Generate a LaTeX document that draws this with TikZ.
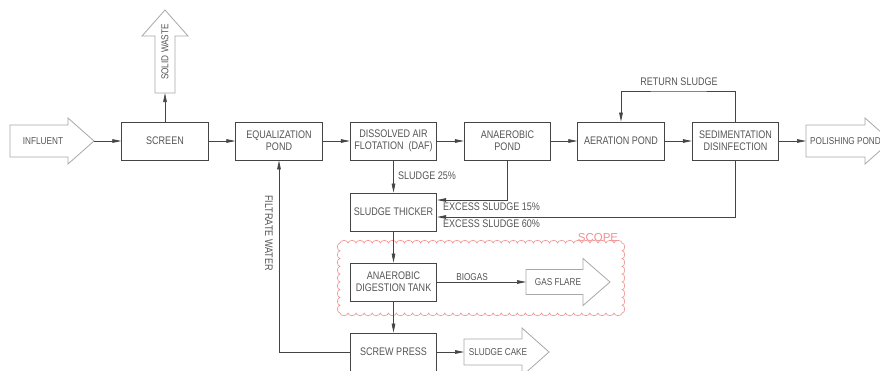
\documentclass[tikz,border=0pt]{standalone}
\usepackage{fontspec}
\setmainfont{Liberation Sans}[FakeStretch=0.82]
\newfontfamily\scopefont{Liberation Sans}
\usetikzlibrary{arrows.meta}
\definecolor{txt}{HTML}{555555}
\definecolor{ln}{HTML}{454545}
\definecolor{hol}{HTML}{A8A8A8}
\definecolor{cloudred}{HTML}{F09090}
\tikzset{
  box/.style={draw=ln, line width=0.8pt, minimum width=86.5pt, minimum height=38pt,
    align=center, text=txt, font=\fontsize{11}{12}\selectfont, inner sep=1pt},
  lbl/.style={text=txt, font=\fontsize{11}{12}\selectfont, inner sep=0pt},
  slbl/.style={text=txt, font=\fontsize{10}{11}\selectfont, inner sep=0pt},
  conn/.style={draw=ln, line width=0.7pt, -{Triangle[length=9pt,width=3.6pt]}},
  hollow/.style={draw=hol, line width=0.8pt, fill=white},
}
\newcommand\hollowR[7]{%
  \draw[hollow] (#2,#5-#6) -- (#3,#5-#6) -- (#3,#5-#7) -- (#4,#5) -- (#3,#5+#7) -- (#3,#5+#6) -- (#2,#5+#6) -- cycle;
  \coordinate (#1-back) at (#2,#5);
  \coordinate (#1-tip) at (#4,#5);
}
\begin{document}
\begin{tikzpicture}[x=1pt, y=-1pt]
\useasboundingbox (0,0) rectangle (880,370);
\fill[white] (0,0) rectangle (880,370);
\clip (0,0) rectangle (880,370);

% scope cloud
\draw[cloudred, line width=0.6pt]
  (340,243)
  \foreach \i in {1,...,35} { arc[start angle=180, end angle=360, x radius=4.03, y radius=2.6] }
  \foreach \i in {1,...,9} { arc[start angle=270, end angle=450, x radius=2.6, y radius=3.89] }
  \foreach \i in {1,...,35} { arc[start angle=0, end angle=180, x radius=4.03, y radius=2.6] }
  \foreach \i in {1,...,9} { arc[start angle=90, end angle=270, x radius=2.6, y radius=3.89] };
\node[text=cloudred, font=\scopefont\fontsize{11.5}{12}\selectfont, inner sep=0pt] (scope) at (598,238) {SCOPE};

% hollow arrows
\hollowR{inf}{10}{68}{94}{141}{16}{23}
\node[slbl] (inft) at (43,141) {INFLUENT};
\hollowR{pol}{806}{865}{891}{141}{16}{23}
\node[slbl, anchor=west] (polt) at (810,141) {POLISHING POND};
\hollowR{gf}{526}{583}{610}{282}{12.5}{23.5}
\node[slbl] (gft) at (558,282) {GAS FLARE};
\hollowR{sc}{464}{522}{549}{352}{13}{24}
\node[slbl] (sct) at (498,352) {SLUDGE CAKE};
% solid waste (vertical)
\draw[hollow] (155,93) -- (155,36) -- (142,36) -- (165,10) -- (188,36) -- (175,36) -- (175,93) -- cycle;
\coordinate (sw-back) at (165,93);
\node[slbl, rotate=90] (swt) at (165,52) {SOLID WASTE};

% boxes
\node[box] (scr) at (165,141) {SCREEN};
\node[box] (eq)  at (279,141) {EQUALIZATION\\POND};
\node[box] (daf) at (393.5,141) {DISSOLVED AIR\\FLOTATION\ \ (DAF)};
\node[box] (anp) at (507.5,141) {ANAEROBIC\\POND};
\node[box] (aer) at (621,141) {AERATION POND};
\node[box] (sed) at (735.5,141) {SEDIMENTATION\\DISINFECTION};
\node[box] (thk) at (393.5,212) {SLUDGE THICKER};
\node[box] (adt) at (393.5,282) {ANAEROBIC\\DIGESTION TANK};
\node[box] (sp)  at (393.5,352) {SCREW PRESS};

% connectors
\draw[conn] (inf-tip) -- (scr.west);
\draw[conn] (scr) -- (eq);
\draw[conn] (eq) -- (daf);
\draw[conn] (daf) -- (anp);
\draw[conn] (anp) -- (aer);
\draw[conn] (aer) -- (sed);
\draw[conn] (sed.east) -- (pol-back);
\draw[conn] (scr.north) -- (sw-back);
\coordinate (rs) at (679,91);
\draw[conn] (sed.north) |- (rs) -| (aer.north);
\node[lbl] (rst) at (679,82) {RETURN SLUDGE};
\draw[conn] (daf) -- (thk);
\node[lbl, anchor=west] (s25) at (398,176) {SLUDGE 25\%};
\draw[conn] (anp.south) |- ([yshift=12pt]thk.east);
\node[lbl, anchor=west] (e15) at (443,206.5) {EXCESS SLUDGE 15\%};
\draw[conn] (sed.south) |- ([yshift=-5pt]thk.east);
\node[lbl, anchor=west] (e60) at (443,223.5) {EXCESS SLUDGE 60\%};
\draw[conn] (thk) -- (adt);
\draw[conn] (adt) -- (sp);
\draw[conn] (adt.east) -- (gf-back);
\node[slbl] (bio) at (472,277) {BIOGAS};
\draw[conn] (sp.east) -- (sc-back);
\draw[conn] (sp.west) -| (eq.south);
\node[lbl, rotate=-90] (fw) at (269,233) {FILTRATE WATER};
\end{tikzpicture}
\end{document}
